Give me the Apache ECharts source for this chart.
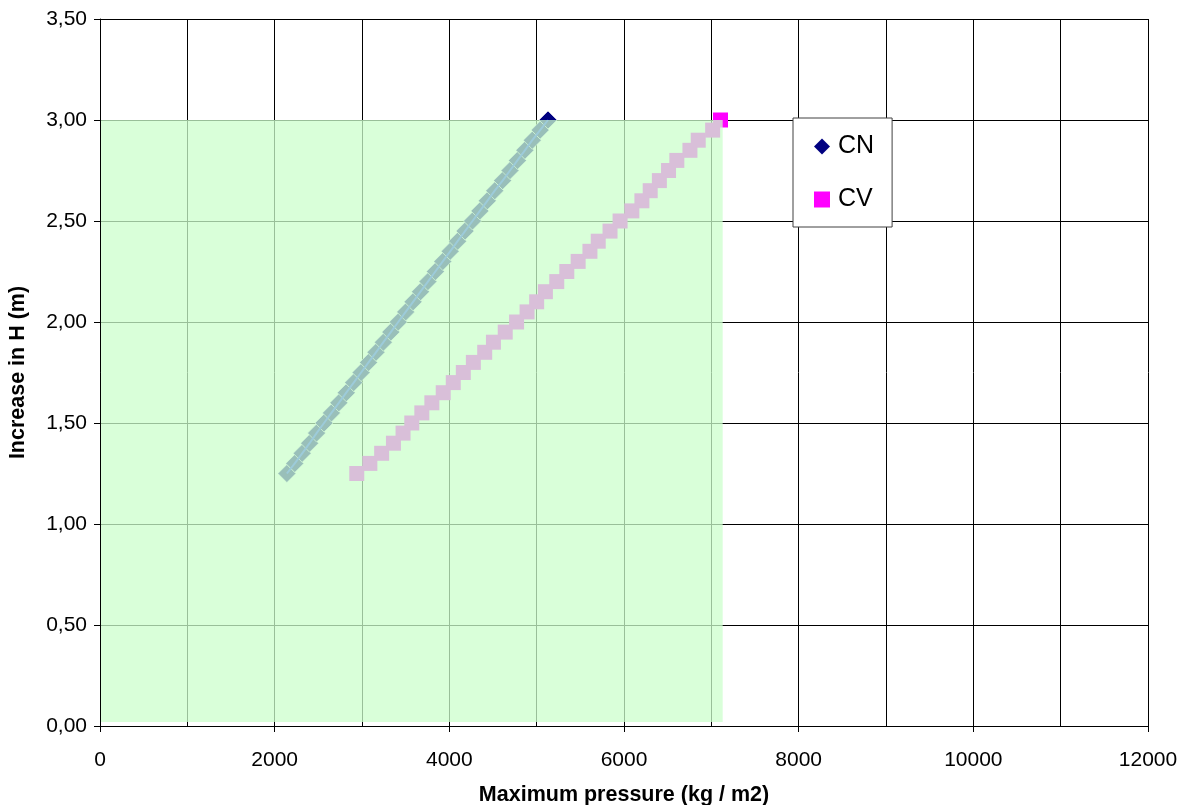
<!DOCTYPE html>
<html>
<head>
<meta charset="utf-8">
<title>Maximum pressure vs increase in H</title>
<script src="https://cdn.jsdelivr.net/npm/echarts@6/dist/echarts.min.js"></script>
<style>
  html, body { margin: 0; padding: 0; background: #ffffff; }
  #chart { width: 1186px; height: 805px; }
</style>
</head>
<body>
<div id="chart"></div>
<script>
// Increase in H (m), shared by both series
const heights = [
  1.25, 1.30, 1.35, 1.40, 1.45, 1.50, 1.55, 1.60, 1.65, 1.70, 1.75, 1.80,
  1.85, 1.90, 1.95, 2.00, 2.05, 2.10, 2.15, 2.20, 2.25, 2.30, 2.35, 2.40,
  2.45, 2.50, 2.55, 2.60, 2.65, 2.70, 2.75, 2.80, 2.85, 2.90, 2.95, 3.00
];

// Maximum pressure (kg / m2) for each height
const pressureCN = [
  2140, 2230, 2315, 2400, 2480, 2565, 2650, 2735, 2820, 2905, 2990, 3075,
  3160, 3245, 3330, 3415, 3500, 3585, 3670, 3755, 3840, 3925, 4010, 4095,
  4180, 4265, 4350, 4435, 4520, 4610, 4695, 4780, 4865, 4950, 5040, 5130
];
const pressureCV = [
  2940, 3090, 3225, 3360, 3470, 3570, 3685, 3800, 3930, 4045, 4160, 4275,
  4405, 4505, 4640, 4770, 4890, 5000, 5100, 5230, 5345, 5475, 5610, 5705,
  5840, 5955, 6090, 6205, 6300, 6405, 6510, 6605, 6755, 6850, 7015, 7105
];

// Shaded zone: [pressure, H] corners
const zoneFrom = [12, 0.02];
const zoneTo = [7130, 3.0];

const seriesNames = ['CN', 'CV'];

const FONT = '"Liberation Sans", Arial, sans-serif';

const pairs = (xs, ys) => xs.map((x, i) => [x, ys[i]]);

const chart = echarts.init(document.getElementById('chart'), null, { renderer: 'canvas' });

chart.setOption({
  animation: false,
  backgroundColor: '#ffffff',
  textStyle: { fontFamily: FONT, color: '#000' },
  grid: {
    left: 100, top: 19, width: 1048, height: 707,
    containLabel: false, outerBoundsMode: 'none'
  },
  legend: {
    orient: 'vertical',
    left: 793,
    top: 118,
    padding: [16, 18, 15, 21],
    itemGap: 28,
    itemWidth: 16,
    itemHeight: 16,
    backgroundColor: '#ffffff',
    borderColor: '#404040',
    borderWidth: 1,
    borderRadius: 0,
    textStyle: { fontFamily: FONT, fontSize: 25, color: '#000', padding: [0, 0, 0, 3] },
    data: [
      { name: seriesNames[0], icon: 'diamond', itemStyle: { borderWidth: 0 } },
      { name: seriesNames[1], icon: 'rect', itemStyle: { borderWidth: 0 } }
    ]
  },
  xAxis: {
    type: 'value',
    min: 0,
    max: 12000,
    interval: 2000,
    name: 'Maximum pressure (kg / m2)',
    nameLocation: 'middle',
    nameGap: 58,
    nameTextStyle: { fontFamily: FONT, fontSize: 21.5, fontWeight: 'bold', color: '#000' },
    axisLine: { show: true, lineStyle: { color: '#000', width: 1 } },
    axisTick: { show: true, length: 6, lineStyle: { color: '#000' } },
    axisLabel: {
      fontFamily: FONT, fontSize: 21, color: '#000', margin: 24,
      formatter: v => String(v)
    },
    splitLine: { show: true, lineStyle: { color: '#000', width: 1 } },
    minorTick: { show: false, splitNumber: 2 },
    minorSplitLine: { show: true, lineStyle: { color: '#000', width: 1 } }
  },
  yAxis: {
    type: 'value',
    min: 0,
    max: 3.5,
    interval: 0.5,
    name: 'Increase in H (m)',
    nameLocation: 'middle',
    nameGap: 71,
    nameTextStyle: { fontFamily: FONT, fontSize: 21.5, fontWeight: 'bold', color: '#000' },
    axisLine: { show: true, lineStyle: { color: '#000', width: 1 } },
    axisTick: { show: true, length: 6, lineStyle: { color: '#000' } },
    axisLabel: {
      fontFamily: FONT, fontSize: 21, color: '#000', margin: 13,
      formatter: v => v.toFixed(2).replace('.', ',')
    },
    splitLine: { show: true, lineStyle: { color: '#000', width: 1 } }
  },
  series: [
    {
      name: seriesNames[0],
      type: 'scatter',
      symbol: 'diamond',
      symbolSize: 18,
      z: 2,
      itemStyle: { color: '#000080', borderColor: '#ffffff', borderWidth: 0.6, opacity: 1 },
      data: pairs(pressureCN, heights)
    },
    {
      name: 'CN trace',
      type: 'line',
      showSymbol: false,
      symbol: 'none',
      z: 3,
      lineStyle: { color: '#1030ff', width: 2 },
      data: pairs(pressureCN, heights),
      silent: true
    },
    {
      name: seriesNames[1],
      type: 'scatter',
      symbol: 'rect',
      symbolSize: 15,
      z: 2,
      itemStyle: { color: '#ff00ff', opacity: 1 },
      data: pairs(pressureCV, heights)
    },
    {
      // translucent zone laid over the grid and markers
      name: 'zone',
      type: 'custom',
      z: 10,
      silent: true,
      encode: { x: [0, 2], y: [1, 3] },
      data: [[zoneFrom[0], zoneFrom[1], zoneTo[0], zoneTo[1]]],
      renderItem: (params, api) => {
        const p0 = api.coord([api.value(0), api.value(1)]);
        const p1 = api.coord([api.value(2), api.value(3)]);
        return {
          type: 'rect',
          shape: {
            x: Math.min(p0[0], p1[0]),
            y: Math.min(p0[1], p1[1]),
            width: Math.abs(p1[0] - p0[0]),
            height: Math.abs(p1[1] - p0[1])
          },
          style: { fill: 'rgba(204,255,204,0.75)' }
        };
      }
    }
  ]
});
</script>
</body>
</html>
